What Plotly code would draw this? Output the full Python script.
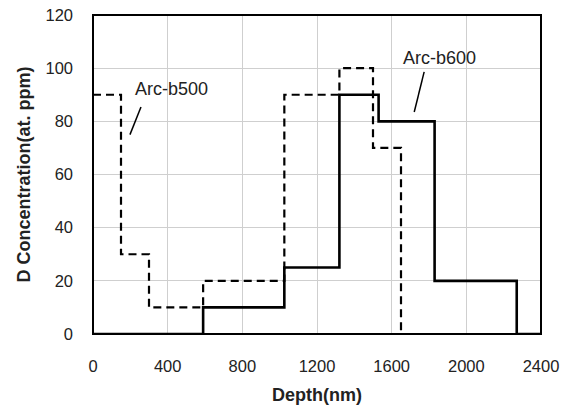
import plotly.graph_objects as go

# Step profiles (depth in nm, D concentration in at. ppm)
b500_x = [0, 150, 150, 300, 300, 590, 590, 1025, 1025, 1320, 1320, 1500, 1500, 1650, 1650, 2400]
b500_y = [90, 90, 30, 30, 10, 10, 20, 20, 90, 90, 100, 100, 70, 70, 0, 0]

b600_x = [0, 590, 590, 1025, 1025, 1320, 1320, 1530, 1530, 1830, 1830, 2270, 2270, 2400]
b600_y = [0, 0, 10, 10, 25, 25, 90, 90, 80, 80, 20, 20, 0, 0]

x_ticks = [0, 400, 800, 1200, 1600, 2000, 2400]
y_ticks = [0, 20, 40, 60, 80, 100, 120]

labels = ["Arc-b500", "Arc-b600"]
label_pos = [(418, 92), (1855, 104)]
leader_lines = [((257, 85.4), (198, 75)), ((1774, 98.6), (1721, 83.5))]

font_family = "Liberation Sans, Arial, sans-serif"

fig = go.Figure()
fig.add_trace(go.Scatter(x=b500_x, y=b500_y, mode="lines",
                         line=dict(color="black", width=2.2, dash="8px,5px"),
                         name=labels[0], showlegend=False))
fig.add_trace(go.Scatter(x=b600_x, y=b600_y, mode="lines",
                         line=dict(color="black", width=2.6),
                         name=labels[1], showlegend=False))

for (tx, ty), lab in zip(label_pos, labels):
    fig.add_annotation(x=tx, y=ty, text=lab, showarrow=False,
                       font=dict(family=font_family, size=18, color="#222"))
for (p0, p1) in leader_lines:
    fig.add_shape(type="line", x0=p0[0], y0=p0[1], x1=p1[0], y1=p1[1],
                  line=dict(color="black", width=1.5))

fig.add_shape(type="rect", xref="paper", yref="paper", x0=0, y0=0, x1=1, y1=1,
              line=dict(color="black", width=2), layer="above")

fig.update_layout(
    width=568, height=409,
    margin=dict(l=93, r=27, t=15, b=75),
    paper_bgcolor="white", plot_bgcolor="white",
    font=dict(family=font_family, size=17, color="#222"),
    xaxis=dict(range=[0, 2400], tickvals=x_ticks, showgrid=True,
               gridcolor="#cfcfcf", gridwidth=1, zeroline=False,
               ticks="", ticklabelstandoff=20, automargin=False,
               tickfont=dict(size=16.5),
               title=dict(text="<b>Depth(nm)</b>", font=dict(size=18), standoff=14)),
    yaxis=dict(range=[0, 120], tickvals=y_ticks, showgrid=True,
               gridcolor="#cfcfcf", gridwidth=1, zeroline=False,
               ticks="", ticklabelstandoff=19, automargin=False,
               tickfont=dict(size=16.5),
               title=dict(text="<b>D Concentration(at. ppm)</b>", font=dict(size=18), standoff=10)),
)

fig.write_html("out.html", config={"displayModeBar": False},
               post_script="document.body.style.margin='0';document.body.style.overflow='hidden';")
